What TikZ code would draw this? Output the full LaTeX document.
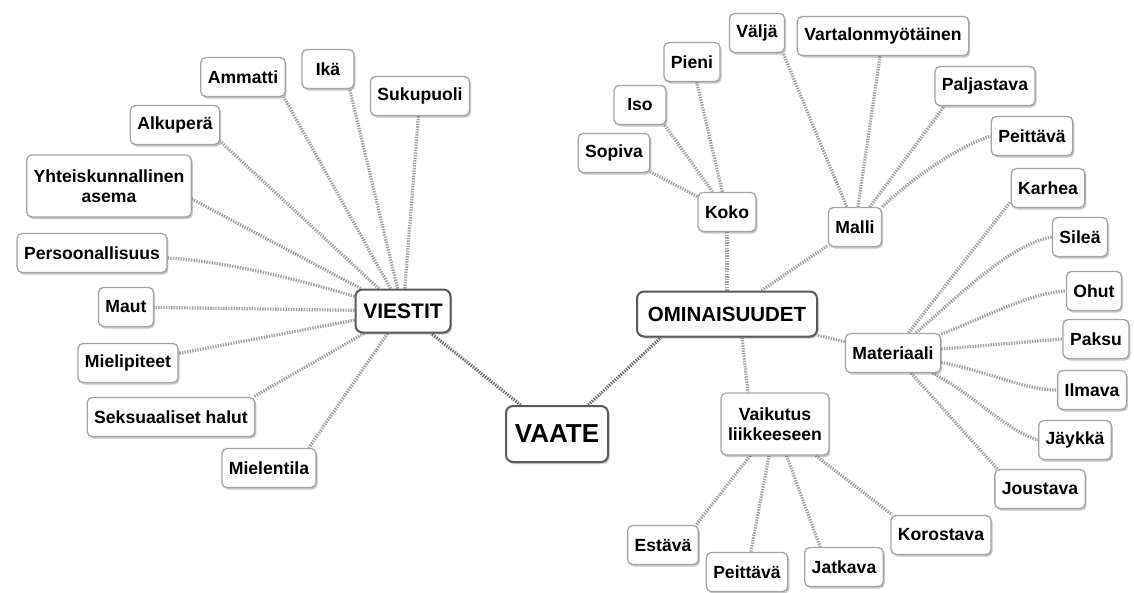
\documentclass[tikz,border=0pt]{standalone}
\usepackage{fontspec}
\setmainfont{Liberation Sans}
\usetikzlibrary{shadows,backgrounds}
\definecolor{leafline}{HTML}{A2A2A2}
\definecolor{leafborder}{HTML}{A4A4A4}
\definecolor{mainborder}{HTML}{5A5A5A}
\definecolor{mainline}{HTML}{707070}
\begin{document}
\begin{tikzpicture}[x=1pt,y=-1pt,
  shadowed/.style={drop shadow={shadow xshift=1.5pt, shadow yshift=-2pt, opacity=0.22, fill=black}},
  leaf/.style={shadowed, draw=leafborder, line width=1.3pt, rounded corners=5pt, fill=white,
    font=\fontsize{17.6}{20}\selectfont\bfseries, inner xsep=7pt, inner ysep=4pt,
    minimum height=39pt, minimum width=52pt, align=center},
  twoline/.style={leaf, minimum height=62pt},
  hub/.style={shadowed, draw=mainborder, line width=2pt, rounded corners=7pt, fill=white,
    inner sep=0pt, align=center},
  link/.style={draw=leafline, line width=3.2pt, dash pattern=on 1.4pt off 1.2pt},
  mainlink/.style={draw=mainline, line width=3.2pt, dash pattern=on 1.4pt off 1.2pt},
]
\useasboundingbox (0,0) rectangle (1134,592);

% hubs
\node[hub, font=\fontsize{26}{30}\selectfont\bfseries, minimum width=102pt, minimum height=56pt] (vaate) at (557,434) {VAATE};
\node[hub, font=\fontsize{21}{24}\selectfont\bfseries, minimum width=95pt, minimum height=43pt] (viestit) at (403,311) {VIESTIT};
\node[hub, font=\fontsize{20.5}{24}\selectfont\bfseries, minimum width=180pt, minimum height=45pt] (omin) at (727,314) {OMINAISUUDET};

% VIESTIT children
\node[leaf] (sukupuoli) at (420,96) {Sukupuoli};
\node[leaf] (ika) at (328,69) {Ikä};
\node[leaf] (ammatti) at (243,77) {Ammatti};
\node[leaf] (alkupera) at (175,125) {Alkuperä};
\node[twoline] (yhteis) at (109,186) {Yhteiskunnallinen\\asema};
\node[leaf] (persoona) at (92,253) {Persoonallisuus};
\node[leaf] (maut) at (126,307) {Maut};
\node[leaf] (mielip) at (128,363) {Mielipiteet};
\node[leaf] (seksu) at (171,417) {Seksuaaliset halut};
\node[leaf] (mielent) at (269,468) {Mielentila};

% OMINAISUUDET subtree
\node[leaf] (koko) at (727,212) {Koko};
\node[leaf] (sopiva) at (614,153) {Sopiva};
\node[leaf] (iso) at (640,105) {Iso};
\node[leaf] (pieni) at (692,62) {Pieni};

\node[leaf] (malli) at (855,227) {Malli};
\node[leaf] (valja) at (757,33) {Väljä};
\node[leaf] (vartalo) at (883,36) {Vartalonmyötäinen};
\node[leaf] (paljastava) at (985,86) {Paljastava};
\node[leaf] (peittavaA) at (1032,136) {Peittävä};

\node[leaf] (materiaali) at (893,353) {Materiaali};
\node[leaf] (karhea) at (1048,188) {Karhea};
\node[leaf] (silea) at (1080,237) {Sileä};
\node[leaf] (ohut) at (1094,291) {Ohut};
\node[leaf] (paksu) at (1096,339) {Paksu};
\node[leaf] (ilmava) at (1092,390) {Ilmava};
\node[leaf] (jaykka) at (1075,440) {Jäykkä};
\node[leaf] (joustava) at (1040,489) {Joustava};

\node[twoline] (vaikutus) at (775,424) {Vaikutus\\liikkeeseen};
\node[leaf] (korostava) at (941,535) {Korostava};
\node[leaf] (jatkava) at (844,567) {Jatkava};
\node[leaf] (peittavaB) at (747,572) {Peittävä};
\node[leaf] (estava) at (663,545) {Estävä};

\begin{scope}[on background layer]
  \draw[mainlink] (vaate) -- (viestit);
  \draw[mainlink] (vaate) -- ([xshift=25pt]omin.south west);

  \draw[link] (viestit) -- (sukupuoli);
  \draw[link] (viestit) -- ([xshift=-5pt]ika.south east);
  \draw[link] (viestit) -- ([xshift=-2pt]ammatti.south east);
  \draw[link] (viestit) -- (alkupera.-20);
  \draw[link] (viestit) -- (yhteis.-9);
  \draw[link] (viestit) .. controls (300,280) and (230,262) .. (persoona);
  \draw[link] (viestit) -- (maut);
  \draw[link] (viestit) -- (mielip);
  \draw[link] (viestit) -- ([xshift=-2pt]seksu.north east);
  \draw[link] (viestit) -- ([xshift=-8pt]mielent.north east);

  \draw[link] (omin) -- (koko);
  \draw[link] (omin) -- (malli);
  \draw[link] (omin) -- (materiaali);
  \draw[link] ([xshift=15pt]omin.south) -- ([xshift=-27pt]vaikutus.north);

  \draw[link] (koko) -- (sopiva);
  \draw[link] (koko) -- ([xshift=-2pt]iso.south east);
  \draw[link] (koko) -- (pieni);

  \draw[link] (malli) -- ([xshift=-2pt]valja.south east);
  \draw[link] (malli) -- (vartalo);
  \draw[link] (malli) -- ([xshift=10pt]paljastava.south west);
  \draw[link] (malli.north east) .. controls (905,185) and (950,150) .. (peittavaA.west);

  \draw[link] (materiaali) -- (karhea.200);
  \draw[link] (materiaali) .. controls (965,290) and (1010,245) .. (silea.west);
  \draw[link] (materiaali) .. controls (990,315) and (1030,293) .. (ohut.west);
  \draw[link] (materiaali) -- (paksu.west);
  \draw[link] (materiaali) .. controls (990,372) and (1025,390) .. (ilmava.west);
  \draw[link] (materiaali) .. controls (975,395) and (1005,430) .. (jaykka.west);
  \draw[link] (materiaali) -- ([xshift=3pt]joustava.north west);

  \draw[link] (vaikutus) -- ([xshift=-3pt]estava.north east);
  \draw[link] (vaikutus) -- (peittavaB);
  \draw[link] (vaikutus) -- ([xshift=-24pt]jatkava.north);
  \draw[link] (vaikutus) -- ([xshift=2pt]korostava.north west);
\end{scope}
\end{tikzpicture}
\end{document}
